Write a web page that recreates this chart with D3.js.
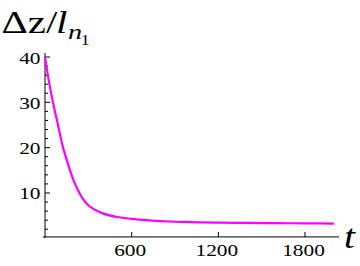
<!DOCTYPE html>
<html><head><meta charset="utf-8">
<script src="https://cdn.jsdelivr.net/npm/d3@7"></script>
<style>html,body{margin:0;padding:0;background:#fff;}svg{display:block;}</style>
</head><body>
<svg id="c" width="360" height="266"></svg>
<script>
const tValues = [0, 25, 55, 90, 125, 150, 175, 200, 230, 265, 300, 335, 400, 500, 600, 700, 800, 900, 1000, 1200, 1400, 1600, 1800, 2000];
const dzValues = [40, 35, 30, 25, 20, 17.4, 14.8, 12.6, 10.5, 8.6, 7.3, 6.5, 5.5, 4.7, 4.3, 4.0, 3.8, 3.65, 3.55, 3.45, 3.4, 3.35, 3.3, 3.25];
const xTicks = [600, 1200, 1800];
const yTicks = [10, 20, 30, 40];
const yMinorTicks = [2,4,6,8,12,14,16,18,22,24,26,28,32,34,36,38];

const FF = '"Liberation Serif"';
const svg = d3.select("#c");
const x = d3.scaleLinear().domain([0, 2000]).range([45, 333.9]);
const y = d3.scaleLinear().domain([0, 40]).range([238.3, 57]);
const axisY = y(0.3);
const sx = 1.22;

// axes lines
svg.append("line").attr("x1", 43).attr("x2", 339).attr("y1", axisY).attr("y2", axisY)
  .attr("stroke", "#000").attr("stroke-width", 1);
svg.append("line").attr("x1", x(0)).attr("x2", x(0)).attr("y1", 53).attr("y2", axisY + 1)
  .attr("stroke", "#000").attr("stroke-width", 1);

// y ticks
svg.selectAll(".ymaj").data(yTicks).enter().append("line")
  .attr("x1", x(0)).attr("x2", x(0) + 5).attr("y1", d => y(d)).attr("y2", d => y(d))
  .attr("stroke", "#000");
svg.selectAll(".ymin").data(yMinorTicks).enter().append("line")
  .attr("x1", x(0)).attr("x2", x(0) + 3).attr("y1", d => y(d)).attr("y2", d => y(d))
  .attr("stroke", "#000");
svg.selectAll(".ylab").data(yTicks).enter().append("text")
  .attr("transform", d => `translate(40.5,${y(d) + 6.5}) scale(${sx},1)`)
  .attr("text-anchor", "end")
  .style("font-family", FF).style("font-size", "17.5px")
  .attr("fill", "#000").text(d => d);

// x ticks
svg.selectAll(".xmaj").data(xTicks).enter().append("line")
  .attr("x1", d => x(d)).attr("x2", d => x(d)).attr("y1", axisY).attr("y2", axisY - 5)
  .attr("stroke", "#000");
svg.selectAll(".xlab").data(xTicks).enter().append("text")
  .attr("transform", d => `translate(${x(d) - 1.5},256.3) scale(${sx},1)`)
  .attr("text-anchor", "middle")
  .style("font-family", FF).style("font-size", "17.5px")
  .attr("fill", "#000").text(d => d);

// curve
const line = d3.line().x((d, i) => x(tValues[i])).y(d => y(d)).curve(d3.curveMonotoneX);
svg.append("path").attr("d", line(dzValues)).attr("fill", "none")
  .attr("stroke", "#ff00ff").attr("stroke-width", 2.2);

// title
const tg = svg.append("g").attr("transform", `translate(1.5,33.3) scale(1.28,1)`)
  .attr("fill", "#000");
tg.append("text").attr("x", 0).attr("y", 0).style("font-family", FF).style("font-size", "32px").text("Δz/");
tg.append("text").attr("x", 42.5).attr("y", 0).style("font-family", FF).style("font-style", "italic").style("font-size", "32px").text("l");
tg.append("text").attr("x", 52).attr("y", 5.7).style("font-family", FF).style("font-style", "italic").style("font-size", "22px").text("n");
tg.append("text").attr("x", 62).attr("y", 11.7).style("font-family", FF).style("font-size", "14px").text("1");

// x label
svg.append("text").attr("transform", `translate(344,248) scale(1.2,1)`)
  .style("font-family", FF).style("font-style", "italic").style("font-size", "33px")
  .attr("fill", "#000").text("t");
</script>
</body></html>
